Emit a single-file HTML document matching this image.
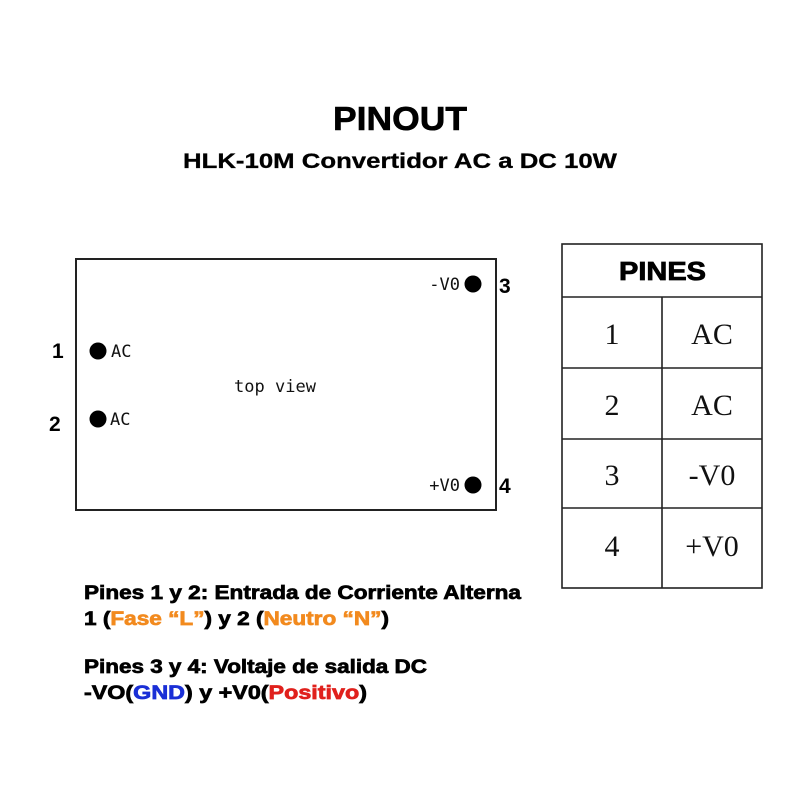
<!DOCTYPE html>
<html><head><meta charset="utf-8"><style>
html,body{margin:0;padding:0;background:#fff;}
svg{display:block;}
</style></head><body>
<svg width="800" height="800" viewBox="0 0 800 800" xmlns="http://www.w3.org/2000/svg">
<rect width="800" height="800" fill="#fff"/>
<text x="333" y="130" textLength="134" lengthAdjust="spacingAndGlyphs" font-family="Liberation Sans, sans-serif" font-weight="bold" font-size="33" fill="#000" stroke="#000" stroke-width="0.6">PINOUT</text>
<text x="183" y="168" textLength="434" lengthAdjust="spacingAndGlyphs" font-family="Liberation Sans, sans-serif" font-weight="bold" font-size="21" fill="#000" stroke="#000" stroke-width="0.3">HLK-10M Convertidor AC a DC 10W</text>

<rect x="76" y="259" width="420" height="251" fill="none" stroke="#222" stroke-width="2"/>
<g font-family="DejaVu Sans Mono, monospace" font-size="17" fill="#111">
<circle cx="98" cy="351" r="8.5" fill="#000"/><text x="111" y="357">AC</text>
<circle cx="98" cy="419" r="8.5" fill="#000"/><text x="110" y="425">AC</text>
<circle cx="473" cy="284" r="8.5" fill="#000"/><text x="460" y="290" text-anchor="end">-V0</text>
<circle cx="473" cy="485" r="8.5" fill="#000"/><text x="460" y="491" text-anchor="end">+V0</text>
<text x="275" y="392" text-anchor="middle">top view</text>
</g>
<g font-family="Liberation Sans, sans-serif" font-weight="bold" font-size="21" fill="#000">
<text x="52" y="358">1</text>
<text x="49" y="431">2</text>
<text x="499" y="293">3</text>
<text x="499" y="493">4</text>
</g>

<g stroke="#222" stroke-width="1.6" fill="none">
<rect x="562" y="244" width="200" height="344"/>
<line x1="562" y1="297" x2="762" y2="297"/>
<line x1="562" y1="368" x2="762" y2="368"/>
<line x1="562" y1="439" x2="762" y2="439"/>
<line x1="562" y1="508" x2="762" y2="508"/>
<line x1="662" y1="297" x2="662" y2="588"/>
</g>
<text x="619" y="280" textLength="87" lengthAdjust="spacingAndGlyphs" font-family="Liberation Sans, sans-serif" font-weight="bold" font-size="26" fill="#000" stroke="#000" stroke-width="0.8">PINES</text>
<g font-family="Liberation Serif, serif" font-size="30" fill="#111" text-anchor="middle">
<text x="612" y="344">1</text><text x="712" y="344">AC</text>
<text x="612" y="415">2</text><text x="712" y="415">AC</text>
<text x="612" y="485">3</text><text x="712" y="485">-V0</text>
<text x="612" y="556">4</text><text x="712" y="556">+V0</text>
</g>

<g font-family="Liberation Sans, sans-serif" font-weight="bold" font-size="19" fill="#000" stroke-width="0.7" lengthAdjust="spacingAndGlyphs">
<text x="84" y="599" textLength="437" lengthAdjust="spacingAndGlyphs" stroke="#000">Pines 1 y  2: Entrada de Corriente Alterna</text>
<text x="84" y="625" textLength="305" lengthAdjust="spacingAndGlyphs" stroke="#000">1 (<tspan fill="#f28a1e" stroke="#f28a1e">Fase “L”</tspan>) y 2 (<tspan fill="#f28a1e" stroke="#f28a1e">Neutro “N”</tspan>)</text>
<text x="84" y="673" textLength="343" lengthAdjust="spacingAndGlyphs" stroke="#000">Pines 3 y 4: Voltaje de salida DC</text>
<text x="84" y="699" textLength="283" lengthAdjust="spacingAndGlyphs" stroke="#000">-VO(<tspan fill="#1a2fd6" stroke="#1a2fd6">GND</tspan>) y +V0(<tspan fill="#e0201c" stroke="#e0201c">Positivo</tspan>)</text>
</g>
</svg>
</body></html>
